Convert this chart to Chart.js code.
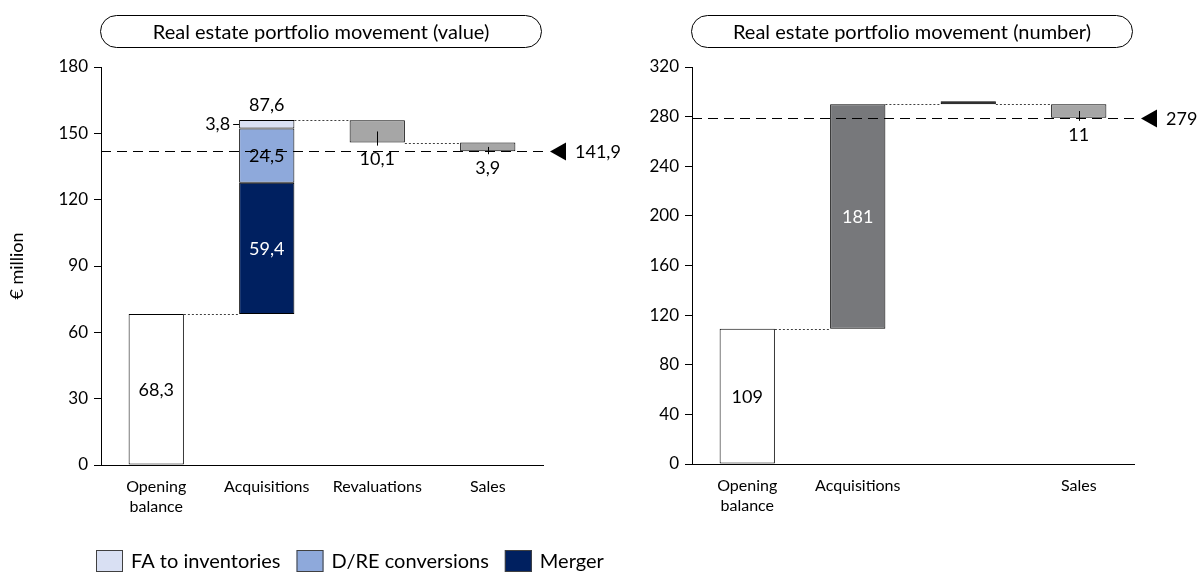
<!DOCTYPE html>
<html>
<head>
<meta charset="utf-8">
<title>Real estate portfolio movement</title>
<script src="https://cdn.jsdelivr.net/npm/chart.js@4.4.1/dist/chart.umd.min.js"></script>
<style>
  html, body { margin: 0; padding: 0; background: #ffffff; }
  #wrap { position: relative; width: 1200px; height: 573px; overflow: hidden; }
  .panel { position: absolute; top: 0; height: 573px; }
</style>
</head>
<body>
<div id="wrap">
  <div class="panel" style="left:0;width:640px"><canvas id="valueChart" width="640" height="573"></canvas></div>
  <div class="panel" style="left:640px;width:560px"><canvas id="numberChart" width="560" height="573"></canvas></div>
</div>
<script>
// ---- Portfolio value, € million ----
const valueCategories = [['Opening', 'balance'], 'Acquisitions', 'Revaluations', 'Sales'];
const valueOpening = 68.3;
const valueMerger = 59.4;
const valueConversions = 24.5;
const valueToInventories = 3.8;
const valueAcquisitionsTotal = 87.6;
const valueRevaluations = -10.1;
const valueSales = -3.9;
const valueClosing = 141.9;
const valueTicks = [0, 30, 60, 90, 120, 150, 180];

// ---- Portfolio size, number of properties ----
const numberCategories = [['Opening', 'balance'], 'Acquisitions', '', 'Sales'];
const numberOpening = 109;
const numberAcquisitions = 181;
const numberRevaluations = 0;
const numberSales = -11;
const numberClosing = 279;
const numberTicks = [0, 40, 80, 120, 160, 200, 240, 280, 320];

const FONT = "Lato, 'Noto Sans', sans-serif";
const INK = '#000000';

const fmtValue = v => Math.abs(v).toFixed(1).replace('.', ',');
const fmtCount = v => String(Math.abs(v));
const r1 = v => Math.round(v * 10) / 10;

// running totals of a waterfall: level after each step
function levels(start, steps) {
  const out = [start];
  let t = start;
  steps.forEach(s => { t = r1(t + s); out.push(t); });
  return out;
}
// a dataset row that only has a bar in one category
function only(index, range, n) {
  const row = new Array(n).fill(null);
  row[index] = range;
  return row;
}

function barBox(chart, ds, i) {
  const el = chart.getDatasetMeta(ds).data[i];
  const p = el.getProps(['x', 'y', 'base', 'width'], true);
  return {
    x: p.x, left: p.x - p.width / 2, right: p.x + p.width / 2,
    top: Math.min(p.y, p.base), bottom: Math.max(p.y, p.base)
  };
}

// connectors, closing line, marker, value labels, title pill and legend
function waterfallPlugin(cfg) {
  return {
    id: 'waterfall_' + cfg.name,
    afterDatasetsDraw(chart) {
      const ctx = chart.ctx;
      const area = chart.chartArea;
      const y = chart.scales.y;
      ctx.save();

      // dotted connectors between consecutive steps
      ctx.strokeStyle = '#404040';
      ctx.lineWidth = 1;
      ctx.setLineDash([2, 2]);
      cfg.connectors.forEach(c => {
        const a = barBox(chart, c.from[0], c.from[1]);
        const b = barBox(chart, c.to[0], c.to[1]);
        const py = Math.round(y.getPixelForValue(c.level)) + 0.5;
        ctx.beginPath();
        ctx.moveTo(a.right, py);
        ctx.lineTo(b.left, py);
        ctx.stroke();
      });

      // closing balance: dashed line across the plot
      const cy = Math.round(y.getPixelForValue(cfg.closing)) + 0.5;
      ctx.strokeStyle = INK;
      ctx.setLineDash([10, 6]);
      ctx.beginPath();
      ctx.moveTo(area.left, cy);
      ctx.lineTo(area.right, cy);
      ctx.stroke();
      ctx.setLineDash([]);

      // marker triangle and closing value
      const tx = area.right + 7;
      ctx.fillStyle = INK;
      ctx.beginPath();
      ctx.moveTo(tx, cy);
      ctx.lineTo(tx + 16, cy - 9);
      ctx.lineTo(tx + 16, cy + 9);
      ctx.closePath();
      ctx.fill();
      ctx.font = '18px ' + FONT;
      ctx.textAlign = 'left';
      ctx.textBaseline = 'middle';
      ctx.fillText(cfg.closingText, tx + 25, cy + 1);

      // short leader ticks on decreases
      ctx.lineWidth = 1;
      cfg.leaders.forEach(([ds, i]) => {
        const b = barBox(chart, ds, i);
        const x = Math.round(b.x) + 0.5;
        ctx.beginPath();
        ctx.moveTo(x, (b.top + b.bottom) / 2);
        ctx.lineTo(x, b.bottom + 3);
        ctx.stroke();
      });

      // value labels
      ctx.font = '18px ' + FONT;
      cfg.labels.forEach(l => {
        const b = barBox(chart, l.ds, l.i);
        ctx.fillStyle = l.color || INK;
        ctx.textBaseline = 'middle';
        if (l.place === 'inside') {
          ctx.textAlign = 'center';
          ctx.fillText(l.text, b.x, (b.top + b.bottom) / 2 + 1);
        } else if (l.place === 'above') {
          ctx.textAlign = 'center';
          ctx.fillText(l.text, b.x, b.top - 15);
        } else if (l.place === 'below') {
          ctx.textAlign = 'center';
          ctx.fillText(l.text, b.x, b.bottom + 17);
        } else if (l.place === 'left') {
          const my = Math.round((b.top + b.bottom) / 2) + 0.5;
          ctx.strokeStyle = INK;
          ctx.beginPath();
          ctx.moveTo(b.left - 6, my);
          ctx.lineTo(b.left, my);
          ctx.stroke();
          ctx.textAlign = 'right';
          ctx.fillText(l.text, b.left - 9, my);
        }
      });
      ctx.restore();
    },
    afterDraw(chart) {
      const ctx = chart.ctx;
      const area = chart.chartArea;
      ctx.save();

      // rounded title box above the plot
      const x0 = area.left - 0.5, x1 = area.right - 1.5, y0 = 15.5, y1 = 47.5;
      const r = (y1 - y0) / 2;
      ctx.strokeStyle = INK;
      ctx.lineWidth = 1;
      ctx.beginPath();
      ctx.moveTo(x0 + r, y0);
      ctx.lineTo(x1 - r, y0);
      ctx.arc(x1 - r, y0 + r, r, -Math.PI / 2, Math.PI / 2);
      ctx.lineTo(x0 + r, y1);
      ctx.arc(x0 + r, y0 + r, r, Math.PI / 2, Math.PI * 1.5);
      ctx.closePath();
      ctx.stroke();
      ctx.fillStyle = INK;
      ctx.font = '20px ' + FONT;
      ctx.textAlign = 'center';
      ctx.textBaseline = 'middle';
      ctx.fillText(cfg.title, (x0 + x1) / 2, (y0 + y1) / 2 + 1);

      // legend for the acquisition breakdown
      if (cfg.legend) {
        let lx = 96;
        const ly = 550;
        ctx.font = '20px ' + FONT;
        ctx.textAlign = 'left';
        ctx.textBaseline = 'middle';
        cfg.legend.forEach(ds => {
          const d = chart.data.datasets[ds];
          ctx.fillStyle = d.backgroundColor;
          ctx.fillRect(lx, ly, 27, 22);
          ctx.strokeStyle = '#404040';
          ctx.strokeRect(lx + 0.5, ly + 0.5, 26, 21);
          ctx.fillStyle = INK;
          ctx.fillText(d.label, lx + 35, ly + 12);
          lx += 35 + ctx.measureText(d.label).width + 16;
        });
      }
      ctx.restore();
    }
  };
}

function axes(ticks, yWidth, yTitle) {
  return {
    x: {
      grid: { display: false, drawTicks: false },
      border: { display: true, color: INK, width: 1 },
      ticks: { color: INK, font: { family: FONT, size: 16, lineHeight: 1.25 }, padding: 12, maxRotation: 0, autoSkip: false },
      afterFit(s) { s.height = 60; }
    },
    y: {
      min: ticks[0], max: ticks[ticks.length - 1],
      afterBuildTicks(s) { s.ticks = ticks.map(v => ({ value: v })); },
      grid: { drawOnChartArea: false, drawTicks: true, tickLength: 7, color: INK, lineWidth: 1 },
      border: { display: true, color: INK, width: 1 },
      ticks: { color: INK, font: { family: FONT, size: 17 }, padding: 6 },
      title: yTitle ? { display: true, text: yTitle, color: INK, font: { family: FONT, size: 18 }, padding: { top: 6, bottom: 0 } } : { display: false },
      afterFit(s) { s.width = yWidth; }
    }
  };
}

const barStyle = { borderColor: INK, borderWidth: 1, borderSkipped: false, grouped: false,
                   barPercentage: 0.5, categoryPercentage: 1 };

// ---- value chart ----
const vLevels = levels(valueOpening, [valueAcquisitionsTotal, valueRevaluations, valueSales]);
const vMergerTop = r1(valueOpening + valueMerger);
const vConvTop = r1(vMergerTop + valueConversions);
const vInvTop = r1(vConvTop + valueToInventories);
const nV = valueCategories.length;

new Chart(document.getElementById('valueChart'), {
  type: 'bar',
  data: {
    labels: valueCategories,
    datasets: [
      { label: 'Opening balance', data: only(0, [0, valueOpening], nV), backgroundColor: '#ffffff', ...barStyle },
      { label: 'Merger', data: only(1, [valueOpening, vMergerTop], nV), backgroundColor: '#002060', ...barStyle },
      { label: 'D/RE conversions', data: only(1, [vMergerTop, vConvTop], nV), backgroundColor: '#8EA9DB', ...barStyle },
      { label: 'FA to inventories', data: only(1, [vConvTop, vInvTop], nV), backgroundColor: '#D9E0F3', ...barStyle },
      { label: 'Revaluations', data: only(2, [vLevels[1], vLevels[2]], nV), backgroundColor: '#A6A6A6', ...barStyle },
      { label: 'Sales', data: only(3, [vLevels[2], vLevels[3]], nV), backgroundColor: '#A6A6A6', ...barStyle }
    ]
  },
  options: {
    responsive: false, animation: false,
    layout: { padding: { left: 0, top: 67, right: 97, bottom: 48 } },
    plugins: { legend: { display: false }, tooltip: { enabled: false } },
    scales: axes(valueTicks, 101, '€ million')
  },
  plugins: [waterfallPlugin({
    name: 'value',
    title: 'Real estate portfolio movement (value)',
    closing: valueClosing,
    closingText: fmtValue(valueClosing),
    connectors: [
      { from: [0, 0], to: [1, 1], level: vLevels[0] },
      { from: [3, 1], to: [4, 2], level: vLevels[1] },
      { from: [4, 2], to: [5, 3], level: vLevels[2] }
    ],
    leaders: [[4, 2], [5, 3]],
    labels: [
      { ds: 0, i: 0, text: fmtValue(valueOpening), place: 'inside' },
      { ds: 1, i: 1, text: fmtValue(valueMerger), place: 'inside', color: '#ffffff' },
      { ds: 2, i: 1, text: fmtValue(valueConversions), place: 'inside' },
      { ds: 3, i: 1, text: fmtValue(valueToInventories), place: 'left' },
      { ds: 3, i: 1, text: fmtValue(valueAcquisitionsTotal), place: 'above' },
      { ds: 4, i: 2, text: fmtValue(valueRevaluations), place: 'below' },
      { ds: 5, i: 3, text: fmtValue(valueSales), place: 'below' }
    ],
    legend: [3, 2, 1]
  })]
});

// ---- number chart ----
const nLevels = levels(numberOpening, [numberAcquisitions, numberRevaluations, numberSales]);
const nN = numberCategories.length;

new Chart(document.getElementById('numberChart'), {
  type: 'bar',
  data: {
    labels: numberCategories,
    datasets: [
      { label: 'Opening balance', data: only(0, [0, numberOpening], nN), backgroundColor: '#ffffff', ...barStyle },
      { label: 'Acquisitions', data: only(1, [nLevels[0], nLevels[1]], nN), backgroundColor: '#77787B', ...barStyle },
      { label: 'Revaluations', data: only(2, [nLevels[1], nLevels[2]], nN), backgroundColor: INK, minBarLength: 3, ...barStyle },
      { label: 'Sales', data: only(3, [nLevels[2], nLevels[3]], nN), backgroundColor: '#A6A6A6', ...barStyle }
    ]
  },
  options: {
    responsive: false, animation: false,
    layout: { padding: { left: 0, top: 67, right: 66, bottom: 49 } },
    plugins: { legend: { display: false }, tooltip: { enabled: false } },
    scales: axes(numberTicks, 52, null)
  },
  plugins: [waterfallPlugin({
    name: 'number',
    title: 'Real estate portfolio movement (number)',
    closing: numberClosing,
    closingText: fmtCount(numberClosing),
    connectors: [
      { from: [0, 0], to: [1, 1], level: nLevels[0] },
      { from: [1, 1], to: [2, 2], level: nLevels[1] },
      { from: [2, 2], to: [3, 3], level: nLevels[2] }
    ],
    leaders: [[3, 3]],
    labels: [
      { ds: 0, i: 0, text: fmtCount(numberOpening), place: 'inside' },
      { ds: 1, i: 1, text: fmtCount(numberAcquisitions), place: 'inside', color: '#ffffff' },
      { ds: 3, i: 3, text: fmtCount(numberSales), place: 'below' }
    ],
    legend: null
  })]
});
</script>
</body>
</html>
